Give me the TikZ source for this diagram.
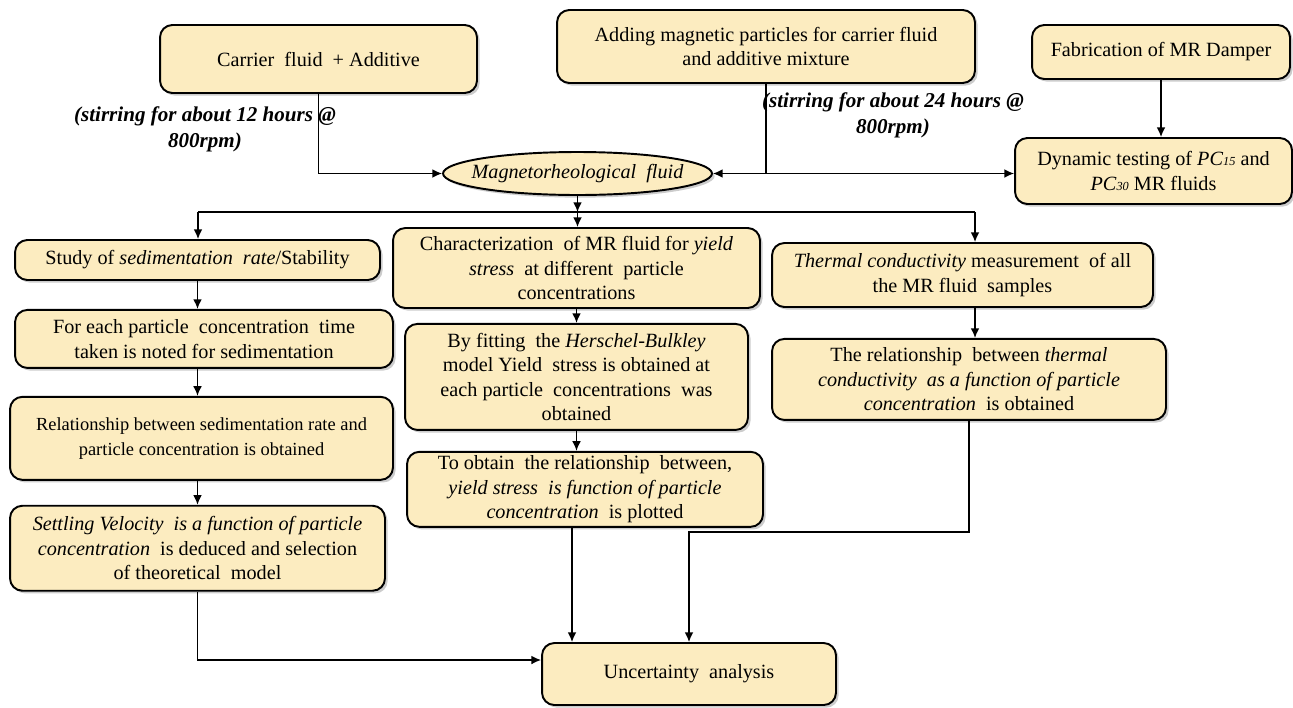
\documentclass[tikz,border=0pt]{standalone}
\usepackage{fontspec}
\setmainfont{Liberation Serif}
\usetikzlibrary{arrows.meta,positioning,shapes.geometric,shadows}
\definecolor{mrfill}{RGB}{252,236,192}
\definecolor{shadegray}{RGB}{110,110,110}

\begin{document}
\begin{tikzpicture}[x=0.02cm, y=-0.02cm, font=\fontsize{11.5}{14}\selectfont, >={Latex[length=5.5pt,width=5pt]}]
\tikzstyle{box}=[rounded corners=7pt, draw=black, line width=1.1pt, fill=mrfill, align=center, inner sep=2pt, drop shadow={shadow xshift=1.5pt, shadow yshift=-1.5pt, fill=shadegray, opacity=0.35}]
\tikzstyle{ellip}=[ellipse, draw=black, line width=1.1pt, fill=mrfill, inner xsep=-8.5pt, inner ysep=2.5pt, drop shadow={shadow xshift=1.5pt, shadow yshift=-1.5pt, fill=shadegray, opacity=0.35}]
\tikzstyle{note}=[font=\bfseries\itshape\fontsize{12}{15}\selectfont, align=center, inner sep=0pt]
\tikzstyle{link}=[line width=0.85pt]
\useasboundingbox (0,0) rectangle (1293,707);
% top row
\node[box, minimum width=6.34cm, minimum height=1.36cm] (carrier) at (318.5,59) {Carrier\ \ fluid\ \ + Additive};
\node[box, minimum width=8.36cm, minimum height=1.46cm] (adding) at (766,46.5) {Adding magnetic particles for carrier fluid\\and additive mixture};
\node[box, minimum width=5.16cm, minimum height=1.08cm] (fab) at (1161,52) {Fabrication of MR Damper};
\node[box, minimum width=5.54cm, minimum height=1.32cm] (dyn) at (1153.5,171) {Dynamic testing of \textit{PC}{\scriptsize\textit{15}} and\\\textit{PC}{\scriptsize\textit{30}} MR fluids};
\node[ellip, minimum width=5.38cm, minimum height=0.86cm] (mr) at (577.5,173.5) {\textit{Magnetorheological\ \ fluid}};
\node[note] (stir12) at (205,129) {(stirring for about 12 hours @\\800rpm)};
\node[note] (stir24) at (893,115) {(stirring for about 24 hours @\\800rpm)};
% left column
\node[box, minimum width=7.3cm, minimum height=0.8cm] (study) at (197.5,260) {Study of \textit{sedimentation\ \ rate}/Stability};
\node[box, minimum width=7.56cm, minimum height=1.16cm, below=0.56cm of study, xshift=0.13cm] (each) {For each particle\ \ concentration\ \ time\\taken is noted for sedimentation};
\node[box, minimum width=7.66cm, minimum height=1.66cm, below=0.54cm of each, xshift=-0.05cm, font=\fontsize{10.5}{14}\selectfont] (relsed) {Relationship between sedimentation rate and\\particle concentration is obtained};
\node[box, minimum width=7.5cm, minimum height=1.7cm, below=0.48cm of relsed, xshift=-0.08cm] (settle) {\textit{Settling Velocity\ \ is a function of particle}\\\textit{concentration}\ \ is deduced and selection\\of theoretical\ \ model};
% middle column
\node[box, minimum width=7.34cm, minimum height=1.6cm] (char) at (576.5,268) {Characterization\ \ of MR fluid for \textit{yield}\\\textit{stress}\ \ at different\ \ particle\\concentrations};
\node[box, minimum width=6.86cm, minimum height=2.12cm, below=0.28cm of char] (fit) {By fitting\ \ the \textit{Herschel-Bulkley}\\model Yield\ \ stress is obtained at\\each particle\ \ concentrations\ \ was\\obtained};
\node[box, minimum width=7.12cm, minimum height=1.5cm, below=0.4cm of fit, xshift=0.17cm] (obtain) {To obtain\ \ the relationship\ \ between,\\\textit{yield stress\ \ is function of particle}\\\textit{concentration}\ \ is plotted};
% right column
\node[box, minimum width=7.62cm, minimum height=1.28cm] (therm) at (962.5,275) {\textit{Thermal conductivity} measurement\ \ of all\\the MR fluid\ \ samples};
\node[box, minimum width=7.88cm, minimum height=1.62cm, below=0.6cm of therm, xshift=0.13cm] (relth) {The relationship\ \ between \textit{thermal}\\\textit{conductivity\ \ as a function of particle}\\\textit{concentration}\ \ is obtained};
% bottom
\node[box, minimum width=5.88cm, minimum height=1.24cm] (unc) at (689,674) {Uncertainty\ \ analysis};
% connectors
\coordinate (split) at (adding.south |- mr.east);
\coordinate (busL) at (198,212);
\coordinate (busR) at (975,212);
\draw[link, ->] (carrier.south) |- (mr.west);
\draw[link] (adding.south) -- (split);
\draw[link, ->] (split) -- (mr.east);
\draw[link, ->] (split) -- (split -| dyn.west);
\draw[link, ->] (fab.south) -- (fab.south |- dyn.north);
\draw[link] (busL) -- (busR);
\draw[link, ->] (mr.south) -- (mr.south |- busL);
\draw[link, ->] (mr.south |- busL) -- (mr.south |- char.north);
\draw[link, ->] (busL) -- (busL |- study.north);
\draw[link, ->] (busR) -- (busR |- therm.north);
\draw[link, ->] (study.south) -- (study.south |- each.north);
\draw[link, ->] (each.south -| study.south) -- (study.south |- relsed.north);
\draw[link, ->] (relsed.south -| study.south) -- (study.south |- settle.north);
\draw[link, ->] (settle.south) |- ([yshift=0.28cm]unc.west);
\draw[link, ->] (char.south) -- (char.south |- fit.north);
\draw[link, ->] (fit.south) -- (fit.south |- obtain.north);
\draw[link, ->] ([xshift=-0.26cm]obtain.south) -- ([xshift=-0.26cm]obtain.south |- unc.north);
\draw[link, ->] (therm.south -| busR) -- (busR |- relth.north);
\draw[link, ->] (relth.south) -- (relth.south |- 0,532) -| (unc.north);
\end{tikzpicture}
\end{document}
